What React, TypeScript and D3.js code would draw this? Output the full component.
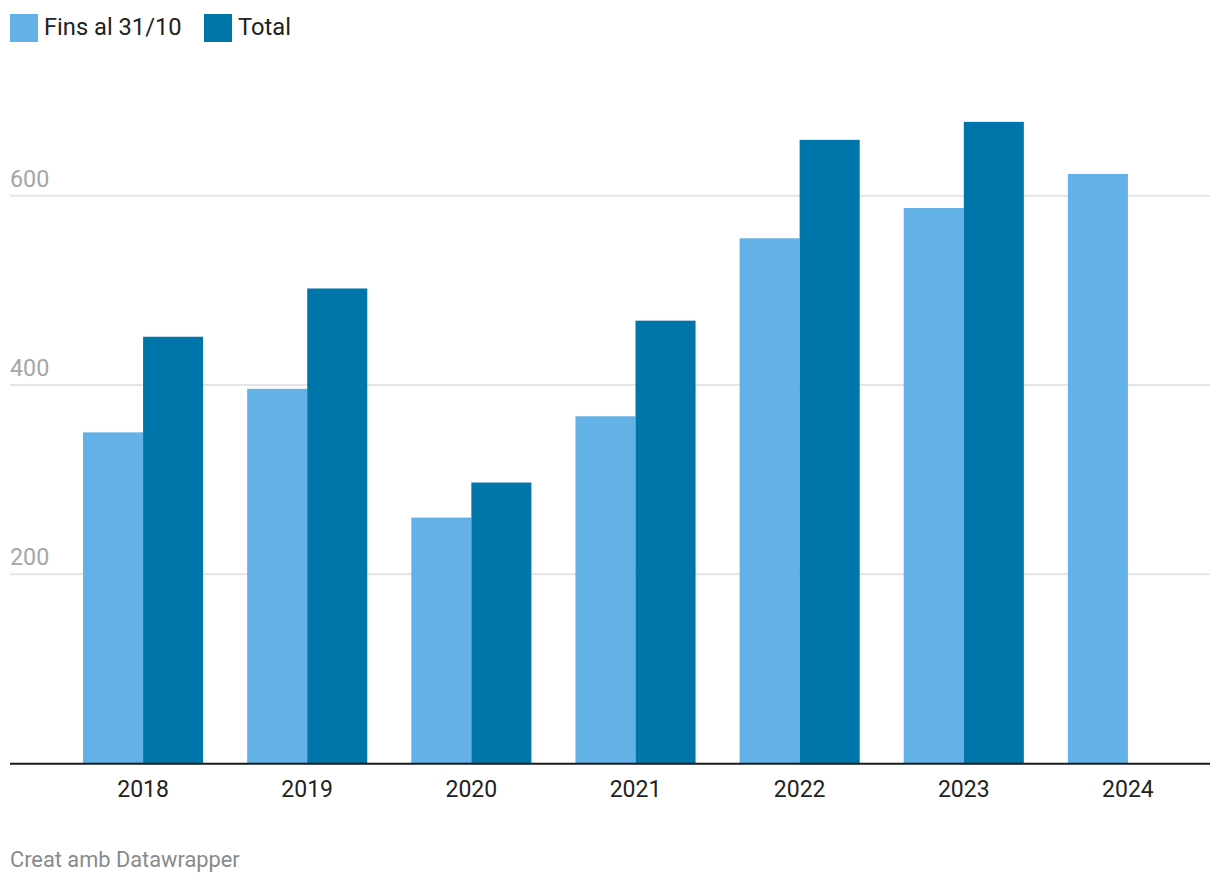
import React from "react";
import * as d3 from "d3";

const years = ["2018", "2019", "2020", "2021", "2022", "2023", "2024"];
const finsAl = [350, 396, 260, 367, 555, 587, 623];
const total: (number | null)[] = [451, 502, 297, 468, 659, 678, null];
const yTicks = [200, 400, 600];
const seriesNames = ["Fins al 31/10", "Total"];
const colors = ["#63b1e7", "#0075a9"];

const W = 1220;
const H = 886;

export default function App() {
  const x = d3
    .scaleBand<string>()
    .domain(years)
    .range([61, 1210])
    .paddingInner(44 / 164)
    .paddingOuter(22 / 164);
  const y = d3.scaleLinear().domain([0, 600]).range([763.7, 195.7]);
  const half = x.bandwidth() / 2;

  return (
    <svg
      width={W}
      height={H}
      style={{ position: "absolute", left: 0, top: 0, background: "#fff" }}
      fontFamily="Roboto, sans-serif"
    >
      {/* legend */}
      {seriesNames.map((name, i) => {
        const lx = i === 0 ? 10 : 204;
        return (
          <g key={name}>
            <rect x={lx} y={14} width={28} height={28} fill={colors[i]} />
            <text x={lx + 34} y={34.5} fontSize={23.7} fill="#222">
              {name}
            </text>
          </g>
        );
      })}
      {/* grid */}
      {yTicks.map((t) => (
        <g key={t}>
          <line x1={10} x2={1210} y1={y(t)} y2={y(t)} stroke="#e5e5e5" strokeWidth={2} />
          <text x={10} y={y(t) - 9} fontSize={23.3} fill="#a6a6a6">
            {t}
          </text>
        </g>
      ))}
      {/* bars */}
      {years.map((yr, i) => (
        <g key={yr}>
          <rect
            x={x(yr)!}
            y={y(finsAl[i])}
            width={half}
            height={y(0) - y(finsAl[i])}
            fill={colors[0]}
          />
          {total[i] != null && (
            <rect
              x={x(yr)! + half}
              y={y(total[i] as number)}
              width={half}
              height={y(0) - y(total[i] as number)}
              fill={colors[1]}
            />
          )}
          <text
            x={x(yr)! + half}
            y={797}
            fontSize={23}
            fill="#222"
            textAnchor="middle"
          >
            {yr}
          </text>
        </g>
      ))}
      {/* baseline */}
      <line x1={10} x2={1210} y1={763.7} y2={763.7} stroke="#1a1a1a" strokeWidth={2} />
      {/* footer */}
      <text x={10} y={867} fontSize={21.8} fill="#8a8a8a">
        Creat amb Datawrapper
      </text>
    </svg>
  );
}
